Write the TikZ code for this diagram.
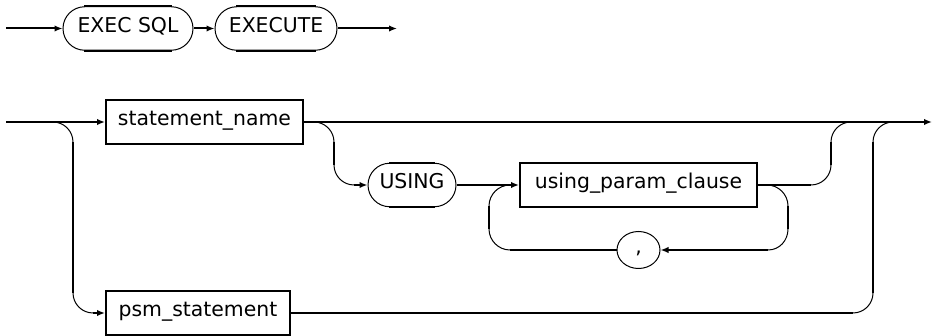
\documentclass[tikz,border=0pt]{standalone}
\usepackage{fontspec}
\setmainfont{DejaVu Sans}
\usetikzlibrary{arrows.meta,shapes.geometric}
\begin{document}
\begin{tikzpicture}[x=1pt,y=-1pt,
  every node/.style={font=\fontsize{20.4}{24}\selectfont, inner sep=0pt, text height=0.73em, text depth=0pt},
  box/.style={draw, line width=2pt, minimum height=44pt},
  pill/.style={draw, line width=1pt, rounded corners=21.75pt, minimum height=43.5pt},
  rail/.style={line width=2pt},
  arcl/.style={line width=1pt},
  arr/.style={-{Latex[length=8pt,width=6.5pt]}}
]
\useasboundingbox (0,0) rectangle (932,336);

% ---------- top line ----------
\node[pill, minimum width=130pt] (execsql) at (128,28.5) {EXEC SQL};
\node[pill, minimum width=122pt] (execute) at (276,28.5) {EXECUTE};
\foreach \n in {execsql,execute}{
  \draw[rail] ([xshift=21.75pt]\n.north west) -- ([xshift=-21.75pt]\n.north east);
  \draw[rail] ([xshift=21.75pt]\n.south west) -- ([xshift=-21.75pt]\n.south east);
}
\coordinate (t0) at (6,28.5);
\coordinate (t1) at (397,28.5);
\draw[rail,arr] (t0) -- (execsql.west);
\draw[rail,arr] (execsql.east) -- (execute.west);
\draw[rail,arr] (execute.east) -- (t1);

% ---------- main diagram nodes ----------
\node[box, minimum width=197pt] (stmt) at (204.5,122) {statement\_name};
\node[box, minimum width=184pt] (psm) at (198,313) {psm\_statement};
\node[pill, minimum width=88pt] (using) at (412,185) {USING};
\draw[rail] ([xshift=21.75pt]using.north west) -- ([xshift=-21.75pt]using.north east);
\draw[rail] ([xshift=21.75pt]using.south west) -- ([xshift=-21.75pt]using.south east);
\node[box, minimum width=237pt] (upc) at (638.5,185) {using\_param\_clause};
\node[draw, ellipse, line width=1pt, minimum width=43pt, minimum height=37pt] (comma) at (638.5,250) {,};

% ---------- coordinates ----------
\coordinate (s0) at (6,122);
\coordinate (e1) at (932,122);
% branch to psm
\coordinate (a1) at (53,122);
\coordinate (a2) at (73,142);
\coordinate (a3) at (73,293);
\coordinate (a4) at (93,313);
% branch to USING
\coordinate (b1) at (314,122);
\coordinate (b2) at (334,142);
\coordinate (b3) at (334,165);
\coordinate (b4) at (354,185);
% return from using_param_clause
\coordinate (c1) at (811,185);
\coordinate (c2) at (831,165);
\coordinate (c3) at (831,142);
\coordinate (c4) at (851,122);
% loop
\coordinate (l1) at (767,185);
\coordinate (l2) at (788,206);
\coordinate (l3) at (788,229);
\coordinate (l4) at (768,250);
\coordinate (l5) at (510,250);
\coordinate (l6) at (489,229);
\coordinate (l7) at (489,206);
\coordinate (l8) at (510,185);
% psm return
\coordinate (p1) at (853,313);
\coordinate (p2) at (873,293);
\coordinate (p3) at (873,142);
\coordinate (p4) at (893,122);

% ---------- connectors ----------
\draw[rail,arr] (s0) -- (stmt.west);
\draw[rail,arr] (stmt.east) -- (e1);

\draw[arcl] (a1) .. controls +(11,0) and +(0,-11) .. (a2);
\draw[rail] (a2) -- (a3);
\draw[arcl] (a3) .. controls +(0,11) and +(-11,0) .. (a4);
\draw[rail,arr] (a4) -- (psm.west);

\draw[arcl] (b1) .. controls +(11,0) and +(0,-11) .. (b2);
\draw[rail] (b2) -- (b3);
\draw[arcl] (b3) .. controls +(0,11) and +(-11,0) .. (b4);
\draw[rail,arr] (b4) -- (using.west);

\draw[rail,arr] (using.east) -- (upc.west);

\draw[rail] (upc.east) -- (c1);
\draw[arcl] (c1) .. controls +(11,0) and +(0,11) .. (c2);
\draw[rail] (c2) -- (c3);
\draw[arcl] (c3) .. controls +(0,-11) and +(-11,0) .. (c4);

\draw[arcl] (l1) .. controls +(11.5,0) and +(0,-11.5) .. (l2);
\draw[rail] (l2) -- (l3);
\draw[arcl] (l3) .. controls +(0,11.5) and +(11.5,0) .. (l4);
\draw[rail,arr] (l4) -- (comma.east);
\draw[rail] (comma.west) -- (l5);
\draw[arcl] (l5) .. controls +(-11.5,0) and +(0,11.5) .. (l6);
\draw[rail] (l6) -- (l7);
\draw[arcl] (l7) .. controls +(0,-11.5) and +(-11.5,0) .. (l8);

\draw[rail] (psm.east) -- (p1);
\draw[arcl] (p1) .. controls +(11,0) and +(0,11) .. (p2);
\draw[rail] (p2) -- (p3);
\draw[arcl] (p3) .. controls +(0,-11) and +(-11,0) .. (p4);
\end{tikzpicture}
\end{document}
